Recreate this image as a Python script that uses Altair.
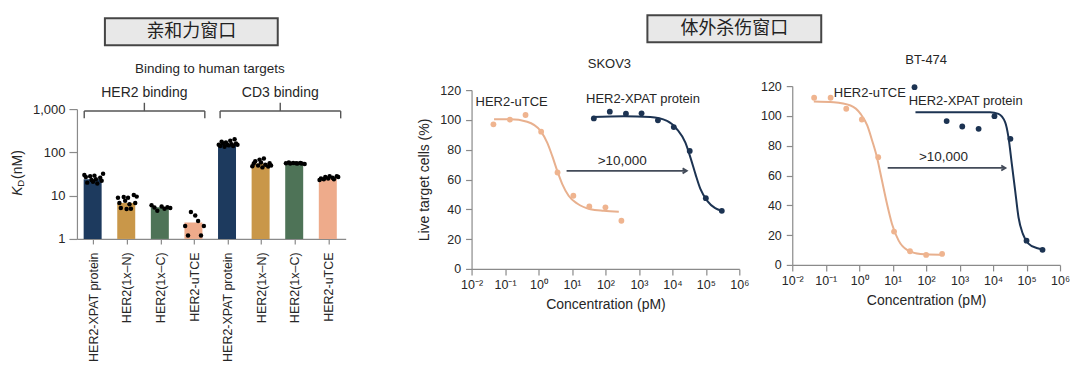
import json
import altair as alt
import pandas as pd

FONT = "Liberation Sans"
CJK = "Noto Sans CJK SC"
TXT = "#262626"
AXIS = "#8a8a8a"
NAVY, GOLD, GREEN, SALMON = "#1d3a5e", "#c99749", "#4e7357", "#eeab8b"
CURVE_O, DOT_O, CURVE_N = "#e8b08e", "#efb48f", "#1c3352"
ARROW = "#434b59"

# ---------------- Panel 1: binding affinity (KD, nM) ----------------
bar_names = ["HER2-XPAT protein", "HER2(1x–N)", "HER2(1x–C)", "HER2-uTCE",
             "HER2-XPAT protein", "HER2(1x–N)", "HER2(1x–C)", "HER2-uTCE"]
bar_kd = [24, 6.8, 5.4, 2.4, 155, 55, 56, 25]
bar_colors = [NAVY, GOLD, GREEN, SALMON, NAVY, GOLD, GREEN, SALMON]
dots_kd = [
    [30, 27, 20, 28, 23, 21, 29, 24, 19, 26, 22, 32],
    [8.9, 6.8, 5.2, 9.3, 7.6, 4.9, 8.9, 6.3, 5.0, 10.3, 6.8, 9.5],
    [6.0, 5.3, 4.5, 5.6, 5.0, 5.4, 5.2],
    [2.0, 1.2, 4.2, 3.5, 2.6, 1.2, 2.0],
    [150, 140, 175, 160, 135, 170, 150, 145, 185, 155, 140, 200, 160, 150],
    [48, 55, 62, 50, 68, 58, 45, 72, 52, 47, 56, 50],
    [56, 58, 55, 57, 56, 55, 57, 55, 54],
    [23, 25, 24, 27, 25, 28, 26, 24, 28, 27],
]
kd_ticks = [1, 10, 100, 1000]

# ---------------- Panels 2/3: in vitro killing ----------------
conc_ticks = [0.01, 0.1, 1, 10, 100, 1e3, 1e4, 1e5, 1e6]
conc_tick_labels = ["10⁻²", "10⁻¹", "10⁰", "10¹", "10²", "10³", "10⁴", "10⁵", "10⁶"]
pct_ticks = [0, 20, 40, 60, 80, 100, 120]

utce_conc = [0.045, 0.14, 0.41, 1.2, 3.7, 11, 33, 100, 300]
skov3_utce = [97.0, 100.2, 103.3, 92.1, 64.7, 49.1, 41.9, 41.3, 32.3]
skov3_xpat_conc = [45, 135, 410, 1200, 3700, 11000, 33000, 100000, 300000]
skov3_xpat = [101.0, 105.5, 104.2, 104.4, 99.7, 95.2, 79.2, 47.5, 39.0]
skov3_fit_u_conc = [0.047, 0.145, 0.457, 1.15, 1.82, 2.57, 3.63, 5.13, 7.94, 14.3, 35.5, 89, 251]
skov3_fit_u = [100.4, 100.4, 98.8, 92.6, 84.7, 75.8, 65.8, 56.9, 49.1, 43.9, 40.1, 39.0, 38.4]
skov3_fit_x_conc = [40, 355, 2190, 6920, 13800, 24500, 34700, 49000, 69200, 110000, 190000, 302000]
skov3_fit_x = [101.9, 102.4, 101.9, 99.3, 93.7, 84.7, 74.7, 63.6, 53.5, 45.7, 40.8, 39.0]

bt_utce = [112.2, 112.2, 104.8, 97.6, 72.3, 22.4, 9.2, 6.7, 7.4]
bt_xpat_conc = [45, 410, 1200, 3700, 11000, 33000, 100000, 300000]
bt_xpat = [119.3, 96.5, 92.9, 91.3, 99.8, 84.6, 16.3, 10.1]
bt_fit_u_conc = [0.044, 0.174, 0.55, 1.1, 1.74, 2.43, 3.39, 4.79, 6.76, 9.55, 15.1, 26.9, 67.6, 263]
bt_fit_u = [109.7, 109.2, 107.0, 101.4, 93.6, 83.5, 72.3, 56.6, 41.0, 27.5, 16.3, 10.1, 7.4, 6.9]
bt_fit_x_conc = [48, 8130, 14500, 22900, 28800, 36300, 45700, 57500, 77600, 112000, 200000, 316000]
bt_fit_x = [102.5, 102.5, 101.4, 95.8, 85.7, 67.8, 49.9, 32.0, 20.8, 14.5, 11.4, 10.5]

skov3_labels = {"text": ["HER2-uTCE", "HER2-XPAT protein"], "conc": [0.0132, 26.3], "pct": [112, 114.2]}
bt_labels = {"text": ["HER2-uTCE", "HER2-XPAT protein"], "conc": [0.174, 30.2], "pct": [115.2, 109.7]}
skov3_arrow = {"start": 6.9, "end": 26900, "pct": 65.8, "label_conc": 316, "label_pct": 72.5}
bt_arrow = {"start": 7.1, "end": 23400, "pct": 65.1, "label_conc": 331, "label_pct": 72.7}

ONE = pd.DataFrame({"a": [0]})


def text(t, x, y, size=13, font=FONT, color=TXT, **kw):
    return alt.Chart(pd.DataFrame({"t": [t]})).mark_text(
        fontSize=size, font=font, color=color, **kw
    ).encode(text="t:N", x=alt.value(x), y=alt.value(y))


def seg(x1, x2, y1, y2):
    return alt.Chart(ONE).mark_rule(color="#555555", strokeWidth=1.4).encode(
        x=alt.value(x1), x2=alt.value(x2), y=alt.value(y1), y2=alt.value(y2))


def box(x1, x2, y1, y2):
    return alt.Chart(ONE).mark_rect(fill="#e8e8e8", stroke="#454545", strokeWidth=2).encode(
        x=alt.value(x1), x2=alt.value(x2), y=alt.value(y1), y2=alt.value(y2))


# ---- Panel 1 ----
bars_df = pd.DataFrame({"idx": list(range(8)), "kd": bar_kd, "base": [1] * 8, "col": bar_colors})
rows = []
for i, vals in enumerate(dots_kd):
    for j, v in enumerate(vals):
        rows.append({"idx": i, "rep": j, "n": len(vals), "kd": v})
dots_df = pd.DataFrame(rows)

x1 = alt.X("idx:O",
           scale=alt.Scale(range=[0, 269], paddingInner=0.4, paddingOuter=0.2),
           axis=alt.Axis(title=None,
                         labelExpr=json.dumps(bar_names, ensure_ascii=False) + "[datum.value]",
                         labelAngle=270, labelAlign="right", labelBaseline="middle",
                         tickSize=5, labelPadding=8, labelFontSize=12.5))
y1 = alt.Y("kd:Q",
           scale=alt.Scale(type="log", domain=[1, 1000], range=[153, 23], nice=False),
           axis=alt.Axis(title=None, values=kd_ticks, format=",", tickSize=8, labelPadding=4,
                         labelFontSize=13))

bars = alt.Chart(bars_df).mark_bar().encode(
    x=x1, y=y1, y2="base:Q", color=alt.Color("col:N", scale=None))
dots = alt.Chart(dots_df).transform_calculate(
    slot="round(datum.rep * 13 / max(datum.n - 1, 1))"
).mark_circle(size=20, color="black", opacity=1).encode(
    x=x1, y=y1,
    xOffset=alt.XOffset("slot:O", scale=alt.Scale(domain=list(range(14)))))

p1_layers = [
    bars, dots,
    # brackets
    seg(7.3, 128, 25, 25), seg(7.3, 7.3, 25, 32.3), seg(128, 128, 25, 32.3), seg(67.5, 67.5, 16.7, 25),
    seg(143.3, 264, 25, 25), seg(143.3, 143.3, 25, 32.3), seg(264, 264, 25, 32.3), seg(203.5, 203.5, 16.7, 25),
    text("Binding to human targets", 133, -17, size=13.5),
    text("HER2 binding", 67.5, 7, size=14),
    text("CD3 binding", 203.5, 7, size=14),
    # KD axis title
    text("K", -58.7, 105, size=14, angle=270, fontStyle="italic"),
    text("D", -55.6, 97.3, size=9.5, angle=270),
    text("(nM)", -58.7, 78.5, size=14, angle=270),
    # heading box
    box(28, 201, -68, -41),
    text("亲和力窗口", 114.5, -54.5, size=18, font=CJK, color="#222222"),
    alt.Chart(ONE).mark_point(opacity=0, size=1).encode(x=alt.value(-66), y=alt.value(-75)),
]
p1 = alt.layer(*p1_layers).properties(width=342, height=153)


# ---- Panels 2/3 ----
def kill_panel(pts_u, pts_x_conc, pts_x, fu_c, fu, fx_c, fx, labels, arrow,
               height, yrange, ytitle, title, title_xy, extra=()):
    xs = alt.Scale(type="log", domain=[0.01, 1e6], nice=False)
    xa = alt.Axis(title="Concentration (pM)", values=conc_ticks,
                  labelExpr=json.dumps(conc_tick_labels, ensure_ascii=False)
                  + "[round(log(datum.value) / LN10) + 2]",
                  tickSize=6, labelPadding=4, labelFlush=False, labelOverlap=False,
                  titlePadding=6)
    ys_kw = dict(domain=[0, 120], nice=False, zero=False)
    if yrange is not None:
        ys_kw["range"] = yrange
    ys = alt.Scale(**ys_kw)
    ya_kw = dict(values=pct_ticks, tickSize=6, labelPadding=5, titlePadding=8)
    ya = alt.Axis(title=ytitle, **ya_kw) if ytitle else alt.Axis(title=None, **ya_kw)
    X = alt.X("conc:Q", scale=xs, axis=xa)
    Y = alt.Y("pct:Q", scale=ys, axis=ya)

    fit_df = pd.DataFrame({
        "conc": fu_c + fx_c, "pct": fu + fx,
        "series": ["u"] * len(fu_c) + ["x"] * len(fx_c),
        "col": [CURVE_O] * len(fu_c) + [CURVE_N] * len(fx_c)})
    pts_df = pd.DataFrame({
        "conc": utce_conc + pts_x_conc, "pct": pts_u + pts_x,
        "col": [DOT_O] * len(utce_conc) + [CURVE_N] * len(pts_x_conc)})
    lab_df = pd.DataFrame(labels)
    arr_df = pd.DataFrame({"conc": [arrow["start"]], "conc2": [arrow["end"]], "pct": [arrow["pct"]]})
    head_df = pd.DataFrame({"conc": [arrow["end"]], "pct": [arrow["pct"]]})
    gt_df = pd.DataFrame({"conc": [arrow["label_conc"]], "pct": [arrow["label_pct"]], "t": [">10,000"]})

    layers = [
        alt.Chart(fit_df).mark_line(strokeWidth=2, interpolate="monotone").encode(
            x=X, y=Y, detail="series:N", color=alt.Color("col:N", scale=None)),
        alt.Chart(pts_df).mark_circle(size=34, opacity=1).encode(
            x=X, y=Y, color=alt.Color("col:N", scale=None)),
        alt.Chart(lab_df).mark_text(align="left", baseline="middle", fontSize=13, font=FONT,
                                    color=TXT).encode(x=X, y=Y, text="text:N"),
        alt.Chart(arr_df).mark_rule(color=ARROW, strokeWidth=1.8).encode(x=X, x2="conc2:Q", y=Y),
        alt.Chart(head_df).mark_point(shape="M-1,-0.6L0,0L-1,0.6", filled=False, size=70,
                                      strokeWidth=1.8, color=ARROW, opacity=1).encode(x=X, y=Y),
        alt.Chart(gt_df).mark_text(fontSize=13.5, font=FONT, color=TXT).encode(x=X, y=Y, text="t:N"),
        text(title, title_xy[0], title_xy[1], size=13),
    ]
    layers.extend(extra)
    return alt.layer(*layers).properties(width=268, height=height)


p2 = kill_panel(skov3_utce, skov3_xpat_conc, skov3_xpat, skov3_fit_u_conc, skov3_fit_u,
                skov3_fit_x_conc, skov3_fit_x, skov3_labels, skov3_arrow,
                183, [183, 4], "Live target cells (%)", "SKOV3", (138, -22),
                extra=[box(176, 350, -71, -44),
                       text("体外杀伤窗口", 263, -57.5, size=18, font=CJK, color="#222222")])
p3 = kill_panel(bt_utce, bt_xpat_conc, bt_xpat, bt_fit_u_conc, bt_fit_u,
                bt_fit_x_conc, bt_fit_x, bt_labels, bt_arrow,
                179, None, None, "BT-474", (134, -26))

chart = alt.hconcat(p1, p2, p3, spacing=53, bounds="flush").properties(
    padding={"left": 2, "top": 2, "right": 2, "bottom": 2}
).configure_view(strokeWidth=0).configure_axis(
    grid=False, domainColor=AXIS, tickColor=AXIS, domainWidth=1.2, tickWidth=1.2,
    labelFont=FONT, labelFontSize=12.5, labelColor=TXT,
    titleFont=FONT, titleFontSize=14, titleFontWeight="normal", titleColor=TXT,
)

chart.save("out.html", embed_options={"renderer": "svg", "actions": False})
